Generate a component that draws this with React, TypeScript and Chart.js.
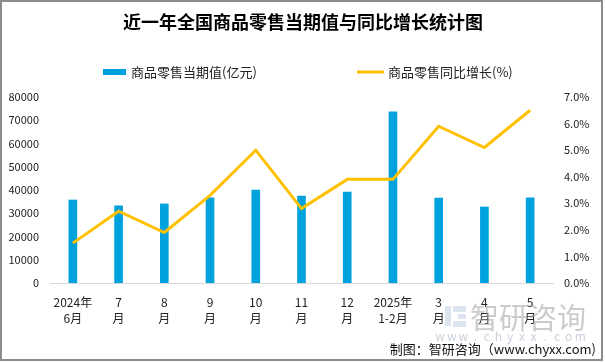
import React, { useEffect, useRef } from "react";
import { Chart, registerables } from "chart.js";

Chart.register(...registerables);

const title = "近一年全国商品零售当期值与同比增长统计图";
const categories: string[][] = [
  ["2024年", "6月"],
  ["7", "月"],
  ["8", "月"],
  ["9", "月"],
  ["10", "月"],
  ["11", "月"],
  ["12", "月"],
  ["2025年", "1-2月"],
  ["3", "月"],
  ["4", "月"],
  ["5", "月"],
];
const barLabel = "商品零售当期值(亿元)";
const lineLabel = "商品零售同比增长(%)";
const retailValues = [35700, 33200, 34000, 36600, 40000, 37400, 39100, 73600, 36500, 32700, 36600];
const growthValues = [1.5, 2.7, 1.9, 3.3, 5.0, 2.8, 3.9, 3.9, 5.9, 5.1, 6.5];
const footerText = "制图：智研咨询（www.chyxx.com)";

const FONT = '"Noto Sans CJK SC", "Noto Sans", sans-serif';
const BLUE = "#00A2DE";
const GOLD = "#FFC000";

export default function App() {
  const ref = useRef<HTMLCanvasElement>(null);

  useEffect(() => {
    document.body.style.margin = "0";
    const canvas = ref.current;
    if (!canvas) return;

    const decor = {
      id: "decor",
      beforeDraw(chart: any) {
        const ctx = chart.ctx;
        ctx.save();
        ctx.fillStyle = "#ffffff";
        ctx.fillRect(0, 0, chart.width, chart.height);
        ctx.restore();
      },
      afterDraw(chart: any) {
        const ctx = chart.ctx;
        ctx.save();
        // watermark
        ctx.fillStyle = "rgba(190,205,225,0.55)";
        ctx.fillRect(445, 306, 6, 20);
        ctx.fillRect(453, 306, 13, 6);
        ctx.fillRect(458, 314, 8, 5);
        ctx.fillRect(453, 321, 13, 6);
        ctx.fillStyle = "rgba(160,160,160,0.55)";
        ctx.font = `29px ${FONT}`;
        ctx.textAlign = "left";
        ctx.textBaseline = "middle";
        ctx.fillText("智研咨询", 470, 318);
        ctx.fillStyle = "rgba(180,190,205,0.7)";
        ctx.font = `12px ${FONT}`;
        ctx.textAlign = "center";
        const wm = "www.chyxx.com";
        let wx = 440;
        for (const ch of wm) {
          ctx.fillText(ch, wx, 336);
          wx += 11.7;
        }
        // title
        ctx.fillStyle = "#000";
        ctx.font = `bold 18px ${FONT}`;
        ctx.textAlign = "center";
        ctx.textBaseline = "middle";
        ctx.fillText(title, 303, 22);
        // legend
        ctx.font = `13px ${FONT}`;
        ctx.textAlign = "left";
        const ds = chart.data.datasets;
        ctx.fillStyle = ds[0].backgroundColor;
        ctx.fillRect(103, 69, 23, 6);
        ctx.fillStyle = "#222";
        ctx.fillText(ds[0].label, 131, 72);
        ctx.strokeStyle = ds[1].borderColor;
        ctx.lineWidth = 3;
        ctx.beginPath();
        ctx.moveTo(357, 72);
        ctx.lineTo(384, 72);
        ctx.stroke();
        ctx.fillText(ds[1].label, 388, 72);
        // footer
        ctx.textAlign = "right";
        ctx.fillStyle = "#111";
        ctx.fillText(footerText, 596, 349);
        // border
        ctx.strokeStyle = "#8c8c8c";
        ctx.lineWidth = 2;
        ctx.strokeRect(1, 1, 601, 359);
        ctx.restore();
      },
    };

    const chart = new Chart(canvas, {
      type: "bar",
      data: {
        labels: categories,
        datasets: [
          {
            type: "bar",
            label: barLabel,
            data: retailValues,
            backgroundColor: BLUE,
            barThickness: 8,
            yAxisID: "y",
            order: 2,
          } as any,
          {
            type: "line",
            label: lineLabel,
            data: growthValues,
            borderColor: GOLD,
            backgroundColor: GOLD,
            borderWidth: 3,
            pointRadius: 0,
            tension: 0,
            yAxisID: "y1",
            order: 1,
          } as any,
        ],
      },
      options: {
        responsive: false,
        animation: false,
        layout: { padding: { top: 97, left: 0, right: 0, bottom: 0 } },
        plugins: {
          legend: { display: false },
          title: { display: false },
          tooltip: { enabled: false },
        },
        scales: {
          x: {
            offset: true,
            grid: { display: false, drawTicks: false },
            border: { display: true, color: "#d9d9d9", width: 1 },
            ticks: {
              font: { family: FONT, size: 12, lineHeight: 1.35 },
              color: "#222",
              padding: 11,
              maxRotation: 0,
              autoSkip: false,
            },
            afterFit(scale: any) {
              scale.height = 80;
            },
          },
          y: {
            position: "left",
            min: 0,
            max: 80000,
            grid: { display: false, drawTicks: false },
            border: { display: false },
            ticks: {
              stepSize: 10000,
              font: { family: FONT, size: 11 },
              color: "#222",
              padding: 11,
              callback: (v: any) => String(v),
            },
            afterFit(scale: any) {
              scale.width = 50;
            },
          },
          y1: {
            position: "right",
            min: 0,
            max: 7,
            grid: { display: false, drawTicks: false },
            border: { display: false },
            ticks: {
              stepSize: 1,
              font: { family: FONT, size: 11 },
              color: "#222",
              padding: 11,
              callback: (v: any) => Number(v).toFixed(1) + "%",
            },
            afterFit(scale: any) {
              scale.width = 52;
            },
          },
        },
      },
      plugins: [decor],
    });

    return () => chart.destroy();
  }, []);

  return (
    <div style={{ width: 605, height: 363 }}>
      <canvas ref={ref} width={605} height={363} style={{ display: "block" }} />
    </div>
  );
}
